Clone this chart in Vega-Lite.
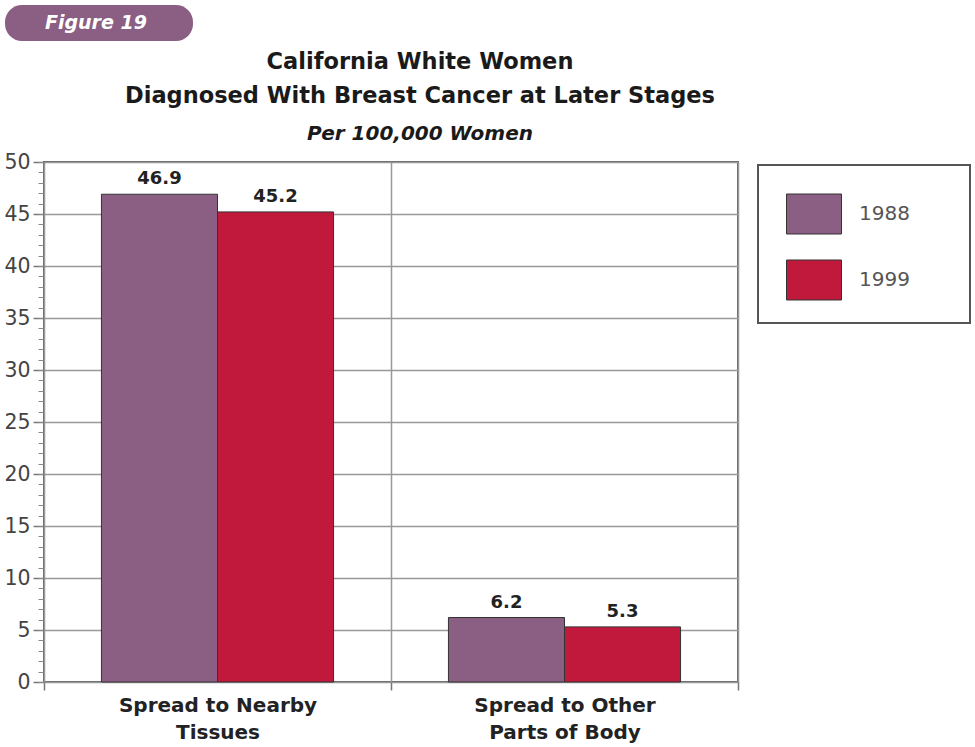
{
  "$schema": "https://vega.github.io/schema/vega-lite/v6.json",
  "width": 694,
  "height": 520,
  "autosize": {"type": "none"},
  "padding": {"top": 162, "left": 44, "right": 237, "bottom": 65},
  "background": "white",
  "title": {
    "text": ["California White Women", "Diagnosed With Breast Cancer at Later Stages"],
    "subtitle": "Per 100,000 Women",
    "anchor": "middle",
    "dx": 29,
    "font": "DejaVu Sans",
    "fontSize": 22.5,
    "fontWeight": "bold",
    "lineHeight": 34,
    "color": "#1a1a1a",
    "subtitleFont": "DejaVu Sans",
    "subtitleFontSize": 20,
    "subtitleFontWeight": "bold",
    "subtitleFontStyle": "italic",
    "subtitleColor": "#1a1a1a",
    "subtitlePadding": 17,
    "offset": -139
  },
  "data": {
    "values": [
      {"stage": "Spread to Nearby Tissues", "year": "1988", "rate": 46.9},
      {"stage": "Spread to Nearby Tissues", "year": "1999", "rate": 45.2},
      {"stage": "Spread to Other Parts of Body", "year": "1988", "rate": 6.2},
      {"stage": "Spread to Other Parts of Body", "year": "1999", "rate": 5.3}
    ]
  },
  "config": {
    "font": "DejaVu Sans",
    "view": {"stroke": "#666", "strokeWidth": 2}
  },
  "resolve": {"axis": {"y": "independent"}},
  "layer": [
    {
      "mark": {"type": "bar", "stroke": "#333", "strokeWidth": 1},
      "encoding": {
        "x": {
          "field": "stage",
          "type": "nominal",
          "sort": null,
          "title": null,
          "scale": {"paddingInner": 0, "paddingOuter": 0},
          "axis": {
            "domain": false,
            "tickBand": "extent",
            "ticks": true,
            "tickSize": 8,
            "tickColor": "#777",
            "tickWidth": 1.5,
            "grid": true,
            "gridColor": "#999",
            "gridWidth": 1.5,
            "labelAngle": 0,
            "labelFontSize": 20,
            "labelFontWeight": "bold",
            "labelColor": "#222",
            "labelPadding": 5,
            "labelLimit": 500,
            "labelLineHeight": 27,
            "labelExpr": "datum.value == 'Spread to Nearby Tissues' ? ['Spread to Nearby', 'Tissues'] : datum.value == 'Spread to Other Parts of Body' ? ['Spread to Other', 'Parts of Body'] : ''"
          }
        },
        "xOffset": {
          "field": "year",
          "type": "nominal",
          "scale": {"paddingInner": 0, "paddingOuter": 0.495}
        },
        "y": {
          "field": "rate",
          "type": "quantitative",
          "title": null,
          "scale": {"domain": [0, 50], "nice": false},
          "axis": {
            "values": [0, 5, 10, 15, 20, 25, 30, 35, 40, 45, 50],
            "domain": false,
            "grid": true,
            "gridColor": "#999",
            "gridWidth": 1.5,
            "tickSize": 11,
            "tickColor": "#777",
            "tickWidth": 1.5,
            "labelFontSize": 20.5,
            "labelColor": "#444",
            "labelPadding": 3
          }
        },
        "color": {
          "field": "year",
          "type": "nominal",
          "scale": {"range": ["#8b5e83", "#c1193b"]},
          "legend": {
            "orient": "none",
            "legendX": 714,
            "legendY": 3,
            "title": "1988",
            "titleOrient": "right",
            "titleFontSize": 13,
            "titleOpacity": 0,
            "titlePadding": 2,
            "fillColor": "white",
            "strokeColor": "#555",
            "padding": 21,
            "symbolOffset": 7,
            "symbolType": "M-1,-0.727H1V0.727H-1Z",
            "symbolSize": 3025,
            "symbolStrokeColor": "#333",
            "symbolStrokeWidth": 1,
            "symbolOpacity": 1,
            "rowPadding": 16,
            "labelOffset": 17,
            "labelFontSize": 20,
            "labelColor": "#555",
            "encode": {"legend": {"update": {"strokeWidth": {"value": 2}}}}
          }
        }
      }
    },
    {
      "mark": {"type": "text", "baseline": "bottom", "dy": -6, "fontSize": 18, "fontWeight": "bold", "color": "#222"},
      "encoding": {
        "x": {"field": "stage", "type": "nominal", "sort": null, "title": null},
        "xOffset": {"field": "year", "type": "nominal"},
        "y": {
          "field": "rate",
          "type": "quantitative",
          "title": null,
          "axis": {
            "orient": "left",
            "values": [0, 1, 2, 3, 4, 5, 6, 7, 8, 9, 10, 11, 12, 13, 14, 15, 16, 17, 18, 19, 20, 21, 22, 23, 24, 25, 26, 27, 28, 29, 30, 31, 32, 33, 34, 35, 36, 37, 38, 39, 40, 41, 42, 43, 44, 45, 46, 47, 48, 49, 50],
            "labels": false,
            "domain": false,
            "grid": false,
            "tickSize": 6,
            "tickColor": "#888",
            "tickWidth": 1
          }
        },
        "text": {"field": "rate", "type": "quantitative", "format": ".1f"}
      }
    },
    {
      "mark": {"type": "point", "opacity": 0},
      "encoding": {
        "x": {"field": "stage", "type": "nominal", "sort": null, "title": null},
        "xOffset": {"field": "year", "type": "nominal"},
        "y": {"field": "rate", "type": "quantitative", "axis": null},
        "shape": {
          "datum": "Figure 19",
          "legend": {
            "orient": "none",
            "legendX": -39,
            "legendY": -157,
            "title": "1988",
            "titleOrient": "right",
            "titleFontSize": 13.5,
            "titleOpacity": 0,
            "titlePadding": 0,
            "fillColor": "#8b5e83",
            "cornerRadius": 17,
            "padding": 8,
            "symbolSize": 0,
            "symbolOpacity": 0,
            "symbolStrokeWidth": 0,
            "labelOffset": 13,
            "labelFontSize": 19,
            "labelFontWeight": "bold",
            "labelFontStyle": "italic",
            "labelColor": "white"
          }
        }
      }
    }
  ]
}
